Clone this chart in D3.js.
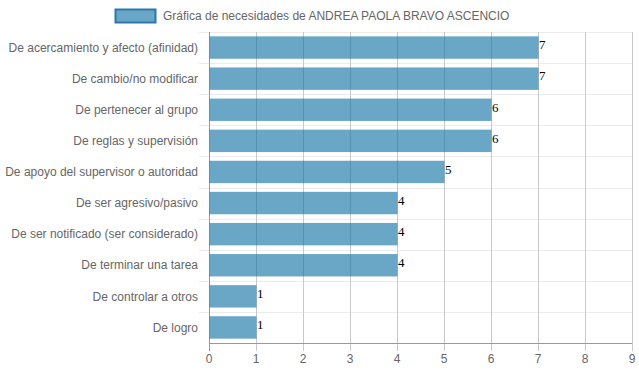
<!DOCTYPE html>
<html>
<head>
<meta charset="utf-8">
<script src="https://cdn.jsdelivr.net/npm/d3@7"></script>
<style>
  body { margin: 0; background: #fff; }
  svg { display: block; font-family: "Liberation Sans", Arial, sans-serif; }
</style>
</head>
<body>
<svg id="chart" width="639" height="372"></svg>
<script>
var seriesName = "Gráfica de necesidades de ANDREA PAOLA BRAVO ASCENCIO";
var categories = [
  "De acercamiento y afecto (afinidad)",
  "De cambio/no modificar",
  "De pertenecer al grupo",
  "De reglas y supervisión",
  "De apoyo del supervisor o autoridad",
  "De ser agresivo/pasivo",
  "De ser notificado (ser considerado)",
  "De terminar una tarea",
  "De controlar a otros",
  "De logro"
];
var values = [7, 7, 6, 6, 5, 4, 4, 4, 1, 1];
var xTicks = [0, 1, 2, 3, 4, 5, 6, 7, 8, 9];

var svg = d3.select("#chart");
var width = 639, height = 372;
var margin = {top: 32, right: 7, bottom: 29, left: 209};

var x = d3.scaleLinear().domain([0, 9]).range([margin.left, width - margin.right]);
var y = d3.scaleBand().domain(categories).range([margin.top, height - margin.bottom]).paddingInner(0.28).paddingOuter(0.14);
var band = d3.scaleBand().domain(categories).range([margin.top, height - margin.bottom]);

var barFill = "rgba(15,111,161,0.62)";
var barStroke = "rgb(41,120,170)";
var gray = "#666";

// horizontal grid lines between categories
var hLines = categories.map(function(c) { return band(c); });
hLines.push(height - margin.bottom);
svg.append("g").selectAll("line").data(hLines.slice(0, -1)).enter().append("line")
  .attr("x1", margin.left - 10).attr("x2", width - margin.right)
  .attr("y1", function(d) { return Math.round(d) + 0.5; })
  .attr("y2", function(d) { return Math.round(d) + 0.5; })
  .attr("stroke", "#ececec").attr("stroke-width", 1);

// vertical grid lines
svg.append("g").selectAll("line").data(xTicks).enter().append("line")
  .attr("x1", function(d) { return Math.round(x(d)) + 0.5; })
  .attr("x2", function(d) { return Math.round(x(d)) + 0.5; })
  .attr("y1", margin.top).attr("y2", height - margin.bottom + 8)
  .attr("stroke", function(d) { return d === 0 ? "#999" : "#c9c9c9"; });

// bottom axis line
svg.append("line")
  .attr("x1", margin.left).attr("x2", width - margin.right)
  .attr("y1", height - margin.bottom + 0.5).attr("y2", height - margin.bottom + 0.5)
  .attr("stroke", "#999");

// bars
svg.append("g").selectAll("rect").data(values).enter().append("rect")
  .attr("x", x(0) + 0.5)
  .attr("y", function(d, i) { return y(categories[i]); })
  .attr("width", function(d) { return x(d) - x(0); })
  .attr("height", y.bandwidth())
  .attr("fill", barFill);

// value labels
svg.append("g").selectAll("text").data(values).enter().append("text")
  .attr("x", function(d) { return x(d) + 1; })
  .attr("y", function(d, i) { return y(categories[i]) + 13; })
  .attr("font-family", "'Liberation Serif', 'Times New Roman', serif")
  .attr("font-size", 13)
  .attr("fill", "#000")
  .text(function(d) { return d; });

// category labels
svg.append("g").selectAll("text").data(categories).enter().append("text")
  .attr("x", margin.left - 11)
  .attr("y", function(d) { return band(d) + band.bandwidth() / 2; })
  .attr("dy", "0.35em")
  .attr("text-anchor", "end")
  .attr("font-size", 12)
  .attr("fill", gray)
  .text(function(d) { return d; });

// x tick labels
svg.append("g").selectAll("text").data(xTicks).enter().append("text")
  .attr("x", function(d) { return x(d); })
  .attr("y", height - margin.bottom + 16)
  .attr("dy", "0.35em")
  .attr("text-anchor", "middle")
  .attr("font-size", 12)
  .attr("fill", gray)
  .text(function(d) { return d; });

// legend
svg.append("rect")
  .attr("x", 115.5).attr("y", 9.5).attr("width", 40).attr("height", 13)
  .attr("fill", barFill).attr("stroke", barStroke).attr("stroke-width", 2);
svg.append("text")
  .attr("x", 163).attr("y", 16).attr("dy", "0.35em")
  .attr("font-size", 12).attr("fill", gray)
  .text(seriesName);
</script>
</body>
</html>
